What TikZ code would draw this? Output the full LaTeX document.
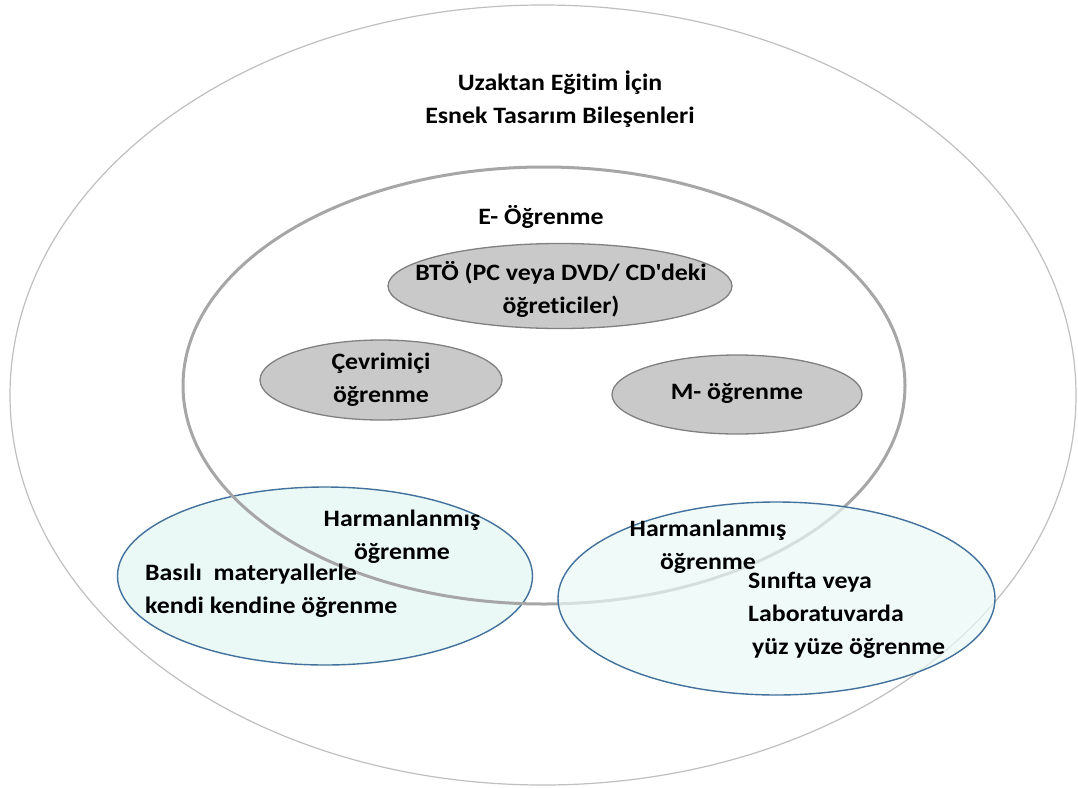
\documentclass[tikz,border=0pt]{standalone}
\usepackage{fontspec}
\setmainfont{Carlito}[FakeStretch=1.1, Ligatures={NoCommon}]
\usetikzlibrary{shapes.geometric}
\definecolor{outerc}{HTML}{BFBFBF}
\definecolor{innerc}{HTML}{A6A6A6}
\definecolor{subfill}{HTML}{C9C9C9}
\definecolor{subline}{HTML}{808080}
\definecolor{bluefill}{HTML}{EAF8F6}
\definecolor{blueline}{HTML}{41719C}
\tikzset{
  oval/.style={ellipse, inner sep=0pt},
  subov/.style={oval, fill=subfill, draw=subline, line width=1.3pt},
  blueov/.style={oval, fill=bluefill, draw=blueline, line width=1.4pt},
  lbl/.style={font=\bfseries\fontsize{23.5}{33}\selectfont, inner sep=0pt, text=black},
}
\begin{document}
\begin{tikzpicture}[x=1pt,y=-1pt]
\useasboundingbox (0,0) rectangle (1078,787);
\node[oval, draw=outerc, line width=1.2pt, minimum width=1066pt, minimum height=780pt] (outer) at (543,395) {};
\node[blueov, minimum width=415pt, minimum height=178pt] (lb) at (325,576) {};
\node[oval, draw=innerc, line width=3pt, minimum width=722pt, minimum height=437pt] (inner) at (544,385.5) {};
\node[blueov, fill opacity=0.7, minimum width=437pt, minimum height=193pt] (rb) at (776.5,598.5) {};
\node[subov, minimum width=344pt, minimum height=85pt] (bto) at (560,286) {};
\node[subov, minimum width=242pt, minimum height=80pt] (cev) at (381,380) {};
\node[subov, minimum width=250pt, minimum height=79pt] (mog) at (737,394.5) {};

\node[lbl, align=center] (title) at (560,99) {Uzaktan Eğitim İçin\\Esnek Tasarım Bileşenleri};
\node[lbl] (eog) at (541,217) {E- Öğrenme};
\node[lbl, align=center] (btot) at (561,289) {BTÖ (PC veya DVD/ CD\textquotesingle deki\\öğreticiler)};
\node[lbl, align=center] (cevt) at (381,380) {Çevrimiçi\\öğrenme};
\node[lbl] (mogt) at (737,393) {M- öğrenme};
\node[lbl, align=center] (lh) at (402,537) {Harmanlanmış\\öğrenme};
\node[lbl, align=left, anchor=west] (lbt) at (145,591) {Basılı\ \ materyallerle\\kendi kendine öğrenme};
\node[lbl, align=center] (rh) at (708,547) {Harmanlanmış\\öğrenme};
\node[lbl, align=left, anchor=west] (rbt) at (748,615) {Sınıfta veya\\Laboratuvarda\\\hspace*{4pt}yüz yüze öğrenme};
\end{tikzpicture}
\end{document}
